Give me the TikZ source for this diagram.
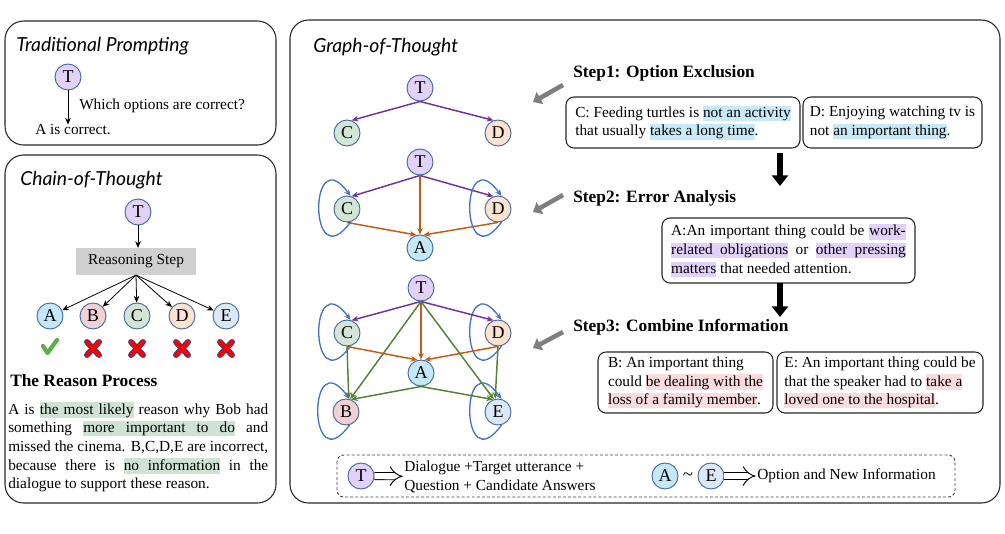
\documentclass[tikz,border=0pt]{standalone}
\usepackage{fontspec}
\setmainfont{Liberation Serif}
\newfontfamily\handfont{Lato}
\usetikzlibrary{arrows.meta,positioning,calc}

\definecolor{fillT}{HTML}{E2D2F7}
\definecolor{fillA}{HTML}{C5E8F6}
\definecolor{fillB}{HTML}{F2D0D4}
\definecolor{fillC}{HTML}{D3E6D6}
\definecolor{fillD}{HTML}{FBE3D0}
\definecolor{fillE}{HTML}{DCE8F5}
\definecolor{nodeline}{HTML}{41699F}
\definecolor{edgepurple}{HTML}{7030A0}
\definecolor{edgeorange}{HTML}{C55A11}
\definecolor{edgegreen}{HTML}{538135}
\definecolor{edgeblue}{HTML}{4472C4}
\definecolor{hlgreen}{HTML}{CFE3D5}
\definecolor{hlblue}{HTML}{C8E9F6}
\definecolor{hlpurple}{HTML}{E2D1FA}
\definecolor{hlpink}{HTML}{FADBDE}
\definecolor{stepgray}{HTML}{7F7F7F}
\definecolor{stepfill}{HTML}{D0D0D0}
\definecolor{checkgreen}{HTML}{5BB04A}
\definecolor{crossedge}{HTML}{2B3F86}

\newcommand\bodyfont{\fontsize{11.5}{14}\selectfont}
\newcommand\hlbox[2]{{\setlength{\fboxsep}{0pt}\colorbox{#1}{\vrule height 8.8pt depth 2.7pt width 0pt\relax #2}}}
\newcommand\hlsp[1]{{\color{#1}\leaders\vrule height 8.8pt depth 2.7pt\hskip\fontdimen2\font plus\fontdimen3\font minus\fontdimen4\font}}
\newcommand\hlg[1]{\hlbox{hlgreen}{#1}}
\newcommand\hlb[1]{\hlbox{hlblue}{#1}}
\newcommand\hlp[1]{\hlbox{hlpurple}{#1}}
\newcommand\hlr[1]{\hlbox{hlpink}{#1}}
\newcommand\jline[2]{\makebox[#1][s]{#2}}

\tikzset{
  panel/.style={draw=black!85, line width=0.8pt, rounded corners=14pt},
  paneltitle/.style={anchor=west, inner sep=0pt, font=\handfont\itshape\fontsize{14.5}{16}\selectfont},
  opt/.style={circle, draw=nodeline, line width=0.7pt, minimum size=19.5pt, inner sep=0pt, font=\fontsize{13.5}{14}\selectfont},
  txt/.style={anchor=west, inner sep=0pt, font=\bodyfont},
  steplabel/.style={anchor=west, inner sep=0pt, font=\bfseries\fontsize{13}{15}\selectfont},
  textbox/.style={draw=black!85, line width=0.8pt, rounded corners=6pt, align=left, inner sep=0pt, font=\bodyfont},
  edgetip/.style={-{Stealth[length=5pt,width=4.2pt]}},
  thinarrow/.style={draw=black, line width=0.6pt, edgetip},
  purpleedge/.style={draw=edgepurple, line width=1.1pt, edgetip},
  orangeedge/.style={draw=edgeorange, line width=1.1pt, edgetip},
  greenedge/.style={draw=edgegreen, line width=1.1pt, edgetip},
  loopedge/.style={draw=edgeblue, line width=1pt, edgetip},
  steparrow/.style={draw=stepgray, line width=3.4pt, -{Triangle[length=6pt,width=10pt]}},
  downarrow/.style={draw=black, line width=4.6pt, -{Triangle[length=8pt,width=12pt]}},
  hollow/.style={draw=black, double, double distance=4.6pt, line width=0.7pt, -{Implies}, shorten >=1pt},
  crossline/.style={line cap=round}
}
\newcommand\selfloop[1]{\draw[loopedge] (#1.-75) .. controls +(-42,-58) and +(-42,58) .. (#1.75);}

\begin{document}
\begin{tikzpicture}[x=0.75pt,y=0.75pt]
\useasboundingbox (0,0) rectangle (1005,-533);

% panels
\draw[panel] (5,-21) rectangle (276,-145);
\draw[panel] (5,-155) rectangle (276,-503);
\draw[panel] (290,-20) rectangle (1000,-503);
\node[paneltitle] (tptitle) at (16,-46) {Traditional Prompting};
\node[paneltitle] (cottitle) at (20,-180) {Chain-of-Thought};
\node[paneltitle] (gottitle) at (313,-47) {Graph-of-Thought};

% traditional prompting
\node[opt, fill=fillT] (tpT) at (68,-77) {T};
\node[txt] (tpq) at (79,-106) {Which options are correct?};
\node[txt] (tpa) at (35,-130) {A is correct.};
\draw[thinarrow] (tpT.south) -- (tpT.south |- tpa.north);

% chain-of-thought
\node[opt, fill=fillT] (cotT) at (138,-212) {T};
\node[fill=stepfill, minimum width=90pt, minimum height=20pt, inner sep=0pt, font=\bodyfont] (rs) at (136,-261.5) {Reasoning Step};
\draw[thinarrow] (cotT.south) -- (cotT.south |- rs.north);
\foreach \o/\x in {A/50,B/93,C/137,D/182,E/226}{
  \node[opt, fill=fill\o] (cot\o) at (\x,-316) {\o};
  \draw[thinarrow] (rs.south) -- (cot\o);
}
\draw[draw=checkgreen, line width=3.2pt, line cap=round, line join=round] (43,-346) -- (47.5,-353) -- (57,-340);
\foreach \x in {93,137,182,226}{
  \draw[crossline, draw=crossedge, line width=4.4pt] (\x-6,-342) -- (\x+6,-355) (\x-6,-355) -- (\x+6,-342);
  \draw[crossline, draw=red, line width=3pt] (\x-6,-342) -- (\x+6,-355) (\x-6,-355) -- (\x+6,-342);
}
\node[anchor=west, inner sep=0pt, font=\bfseries\fontsize{13}{15}\selectfont] (rphead) at (10,-381) {The Reason Process};
\node[anchor=north west, inner sep=0pt, align=left, font=\bodyfont] (rptext) at (8,-402) {%
  \jline{195pt}{A is \hlg{the}\hlsp{hlgreen}\hlg{most}\hlsp{hlgreen}\hlg{likely} reason why Bob had}\\
  \jline{195pt}{something \hlg{more}\hlsp{hlgreen}\hlg{important}\hlsp{hlgreen}\hlg{to}\hlsp{hlgreen}\hlg{do} and}\\
  \jline{195pt}{missed the cinema. B,C,D,E are incorrect,}\\
  \jline{195pt}{because there is \hlg{no}\hlsp{hlgreen}\hlg{information} in the}\\
  dialogue to support these reason.};

% graph-of-thought, step 1
\node[opt, fill=fillT] (T1) at (420,-88) {T};
\node[opt, fill=fillC] (C1) at (347,-133) {C};
\node[opt, fill=fillD] (D1) at (498,-133) {D};
\draw[purpleedge] (T1.south) -- (C1.70);
\draw[purpleedge] (T1.south) -- (D1.110);

% step 2
\node[opt, fill=fillT] (T2) at (420,-162) {T};
\node[opt, fill=fillC] (C2) at (347,-209) {C};
\node[opt, fill=fillD] (D2) at (498,-209) {D};
\node[opt, fill=fillA] (A2) at (420,-248) {A};
\draw[purpleedge] (T2.south) -- (C2.70);
\draw[purpleedge] (T2.south) -- (D2.110);
\draw[orangeedge] (T2.south) -- (A2.north);
\draw[orangeedge] (C2.south) -- (A2.105);
\draw[orangeedge] (D2.south) -- (A2.75);
\selfloop{C2}
\selfloop{D2}

% step 3
\node[opt, fill=fillT] (T3) at (421,-288) {T};
\node[opt, fill=fillC] (C3) at (347,-333) {C};
\node[opt, fill=fillD] (D3) at (498,-333) {D};
\node[opt, fill=fillA] (A3) at (421,-373) {A};
\node[opt, fill=fillB] (B3) at (346,-412) {B};
\node[opt, fill=fillE] (E3) at (498,-412) {E};
\selfloop{C3}
\selfloop{D3}
\selfloop{B3}
\selfloop{E3}
\draw[purpleedge] (T3.south) -- (C3.70);
\draw[purpleedge] (T3.south) -- (D3.110);
\draw[orangeedge] (T3.south) -- (A3.north);
\draw[orangeedge] (C3.south) -- (A3.105);
\draw[orangeedge] (D3.south) -- (A3.75);
\draw[greenedge] (C3.south) -- (B3.78);
\draw[greenedge] (T3.south) -- (B3.72);
\draw[greenedge] (A3.south) -- (B3.68);
\draw[greenedge] (D3.south) -- (E3.102);
\draw[greenedge] (T3.south) -- (E3.108);
\draw[greenedge] (A3.south) -- (E3.112);

% step labels and texts
\node[steplabel] (step1) at (573,-73) {Step1: Option Exclusion};
\node[steplabel] (step2) at (573,-198) {Step2: Error Analysis};
\node[steplabel] (step3) at (573,-327) {Step3: Combine Information};
\coordinate (g1a) at (563,-85);  \coordinate (g1b) at (533,-102);
\coordinate (g2a) at (563,-195); \coordinate (g2b) at (533,-212);
\coordinate (g3a) at (563,-332); \coordinate (g3b) at (533,-348);
\draw[steparrow] (g1a) -- (g1b);
\draw[steparrow] (g2a) -- (g2b);
\draw[steparrow] (g3a) -- (g3b);

\node[textbox, minimum width=175.5pt, minimum height=38.25pt] (boxC) at (683,-122.5)
  {C: Feeding turtles is \hlb{not an activity}\\ that usually \hlb{takes a long time}.};
\node[textbox, minimum width=134.25pt, minimum height=38.25pt] (boxD) at (892.5,-122.5)
  {D: Enjoying watching tv is\\ not \hlb{an important thing}.};
\node[textbox, minimum width=189.75pt, minimum height=48.75pt] (boxA) at (788.5,-250.5) {%
  \jline{176pt}{A:An important thing could be \hlp{work-}}\\
  \jline{176pt}{\hlp{related}\hlsp{hlpurple}\hlp{obligations} or \hlp{other}\hlsp{hlpurple}\hlp{pressing}}\\
  \hlp{matters} that needed attention.};
\node[textbox, minimum width=131.25pt, minimum height=45.75pt] (boxB) at (685.5,-382.5)
  {B: An important thing\\ could \hlr{be dealing with the}\\ \hlr{loss of a family member}.};
\node[textbox, minimum width=154.5pt, minimum height=45.75pt] (boxE) at (880,-382.5)
  {E: An important thing could be\\ that the speaker had to \hlr{take a}\\ \hlr{loved one to the hospital}.};
\coordinate (k1a) at (780,-153); \coordinate (k1b) at (780,-186);
\coordinate (k2a) at (780,-283); \coordinate (k2b) at (780,-317);
\draw[downarrow] (k1a) -- (k1b);
\draw[downarrow] (k2a) -- (k2b);

% legend
\draw[draw=black!75, line width=0.7pt, dash pattern=on 2.2pt off 1.6pt, rounded corners=5pt] (337,-455) rectangle (955,-497);
\node[opt, fill=fillT] (legT) at (361,-476) {T};
\node[txt, align=left] (legtxt1) at (404,-477) {Dialogue +Target utterance +\\Question + Candidate Answers};
\draw[hollow] (legT) -- (legtxt1);
\node[opt, fill=fillA] (legA) at (665,-476) {A};
\node[inner sep=0pt, font=\fontsize{14}{14}\selectfont] (legtilde) at (688,-477) {\textasciitilde};
\node[opt, fill=fillE] (legE) at (711,-476) {E};
\node[txt] (legtxt2) at (757,-476) {Option and New Information};
\draw[hollow] (legE) -- (legtxt2);
\end{tikzpicture}
\end{document}
